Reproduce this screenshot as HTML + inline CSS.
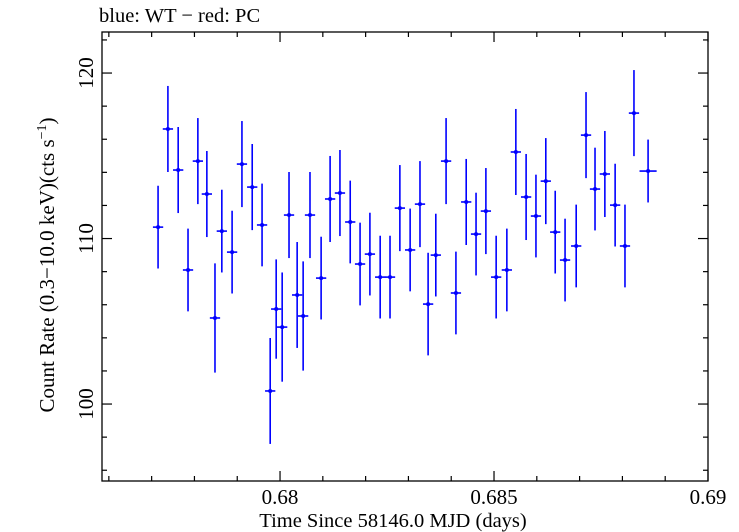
<!DOCTYPE html>
<html><head><meta charset="utf-8"><style>
html,body{margin:0;padding:0;background:#fff;}
svg{display:block;font-family:"Liberation Serif",serif;}
</style></head><body>
<svg id="chart" width="739" height="532" viewBox="0 0 739 532" xmlns="http://www.w3.org/2000/svg">
<text x="99" y="22" font-size="20.5" fill="#000">blue: WT − red: PC</text>
<rect x="102" y="32" width="606" height="449" fill="none" stroke="#000" stroke-width="1.3"/>
<g id="ticks"></g>
<g id="marks"></g>
<text x="393" y="527" font-size="20.5" text-anchor="middle">Time Since 58146.0 MJD (days)</text>
<text transform="translate(54,265) rotate(-90)" font-size="21" text-anchor="middle">Count Rate (0.3−10.0 keV)(cts s<tspan dy="-8" font-size="14">−1</tspan><tspan dy="8">)</tspan></text>
</svg>
<script>
const times=[0.67715,0.67738,0.67762,0.67785,0.67808,0.67829,0.67848,0.67864,0.67888,0.67911,0.67935,0.67958,0.67977,0.67991,0.68005,0.68021,0.68040,0.68054,0.68070,0.68096,0.68117,0.68140,0.68164,0.68187,0.68210,0.68234,0.68257,0.68280,0.68304,0.68327,0.68346,0.68364,0.68388,0.68411,0.68435,0.68458,0.68481,0.68505,0.68530,0.68551,0.68575,0.68598,0.68621,0.68643,0.68666,0.68692,0.68715,0.68736,0.68759,0.68783,0.68806,0.68827,0.68860];
const rates=[110.69,116.62,114.14,108.10,114.68,112.69,105.20,110.45,109.18,114.50,113.11,110.82,100.79,105.74,104.65,111.42,106.59,105.32,111.42,107.61,112.39,112.75,111.00,108.46,109.06,107.67,107.67,111.84,109.31,112.08,106.04,109.00,114.68,106.71,112.21,110.27,111.66,107.67,108.10,115.23,112.51,111.36,113.47,110.39,108.70,109.55,116.25,112.99,113.90,112.02,109.55,117.58,114.08];
const errs=[2.5,2.6,2.6,2.5,2.6,2.6,3.3,2.5,2.5,2.6,2.6,2.5,3.2,3.0,3.3,2.6,3.2,3.3,2.6,2.5,2.6,2.6,2.5,2.5,2.5,2.5,2.5,2.6,2.5,2.6,3.1,2.5,2.6,2.5,2.6,2.5,2.6,2.5,2.5,2.6,2.6,2.5,2.6,2.5,2.5,2.5,2.6,2.5,2.6,2.5,2.5,2.6,1.9];
const xHalf=[0.00012,0.00012,0.00012,0.00012,0.00012,0.00012,0.00012,0.00012,0.00012,0.00012,0.00012,0.00012,0.00012,0.00012,0.00012,0.00012,0.00012,0.00012,0.00012,0.00012,0.00012,0.00012,0.00012,0.00012,0.00012,0.00012,0.00012,0.00012,0.00012,0.00012,0.00012,0.00012,0.00012,0.00012,0.00012,0.00012,0.00012,0.00012,0.00012,0.00012,0.00012,0.00012,0.00012,0.00012,0.00012,0.00012,0.00012,0.00012,0.00012,0.00012,0.00012,0.00012,0.0002];
const xTickLabels=["0.68","0.685","0.69"];
const yTickLabels=["100","110","120"];
const NS="http://www.w3.org/2000/svg";
const L=102,R=708,T=32,B=481;
const x0=0.67584,x1=0.69;
const y0=95.35,y1=122.48;
function xs(v){return L+(v-x0)/(x1-x0)*(R-L);}
function ys(v){return B-(v-y0)/(y1-y0)*(B-T);}
function mk(tag,attrs,parent){const e=document.createElementNS(NS,tag);for(const k in attrs)e.setAttribute(k,attrs[k]);parent.appendChild(e);return e;}
const tg=document.getElementById('ticks');
for(let i=0;i<=25;i++){const v=0.676+i*0.001;if(v<x0-1e-9||v>x1+1e-9)continue;const X=xs(v);const major=Math.abs(v*200-Math.round(v*200))<1e-6;const len=major?10:5;
const a=mk('line',{x1:X,x2:X,y1:B,y2:B-len,stroke:'#000','stroke-width':1.2},tg);


const b=mk('line',{x1:X,x2:X,y1:T,y2:T+len,stroke:'#000','stroke-width':1.2},tg);

}
xTickLabels.forEach(s=>{const t=mk('text',{x:xs(parseFloat(s)),y:B+23,'font-size':21,'text-anchor':'middle'},tg);t.textContent=s;

});
for(let v=96;v<=122;v+=2){const Y=ys(v);const major=v%10===0;const len=major?10:5;
const a=mk('line',{x1:L,x2:L+len,y1:Y,y2:Y,stroke:'#000','stroke-width':1.2},tg);


const b=mk('line',{x1:R,x2:R-len,y1:Y,y2:Y,stroke:'#000','stroke-width':1.2},tg);

}
yTickLabels.forEach(s=>{const Y=ys(parseFloat(s));const t=mk('text',{transform:`translate(93,${Y}) rotate(-90)`,'font-size':21,'text-anchor':'middle'},tg);t.textContent=s;

});
const mg=document.getElementById('marks');
times.forEach((t,i)=>{const X=xs(t),Y=ys(rates[i]);
const g=mk('g',{},mg);


mk('line',{x1:X,x2:X,y1:ys(rates[i]+errs[i]),y2:ys(rates[i]-errs[i]),stroke:'#0000ff','stroke-width':1.6},g);
mk('line',{x1:xs(t-xHalf[i]),x2:xs(t+xHalf[i]),y1:Y,y2:Y,stroke:'#0000ff','stroke-width':1.6},g);
mk('circle',{cx:X,cy:Y,r:2,fill:'#0000ff'},g);});
</script>
</body></html>
